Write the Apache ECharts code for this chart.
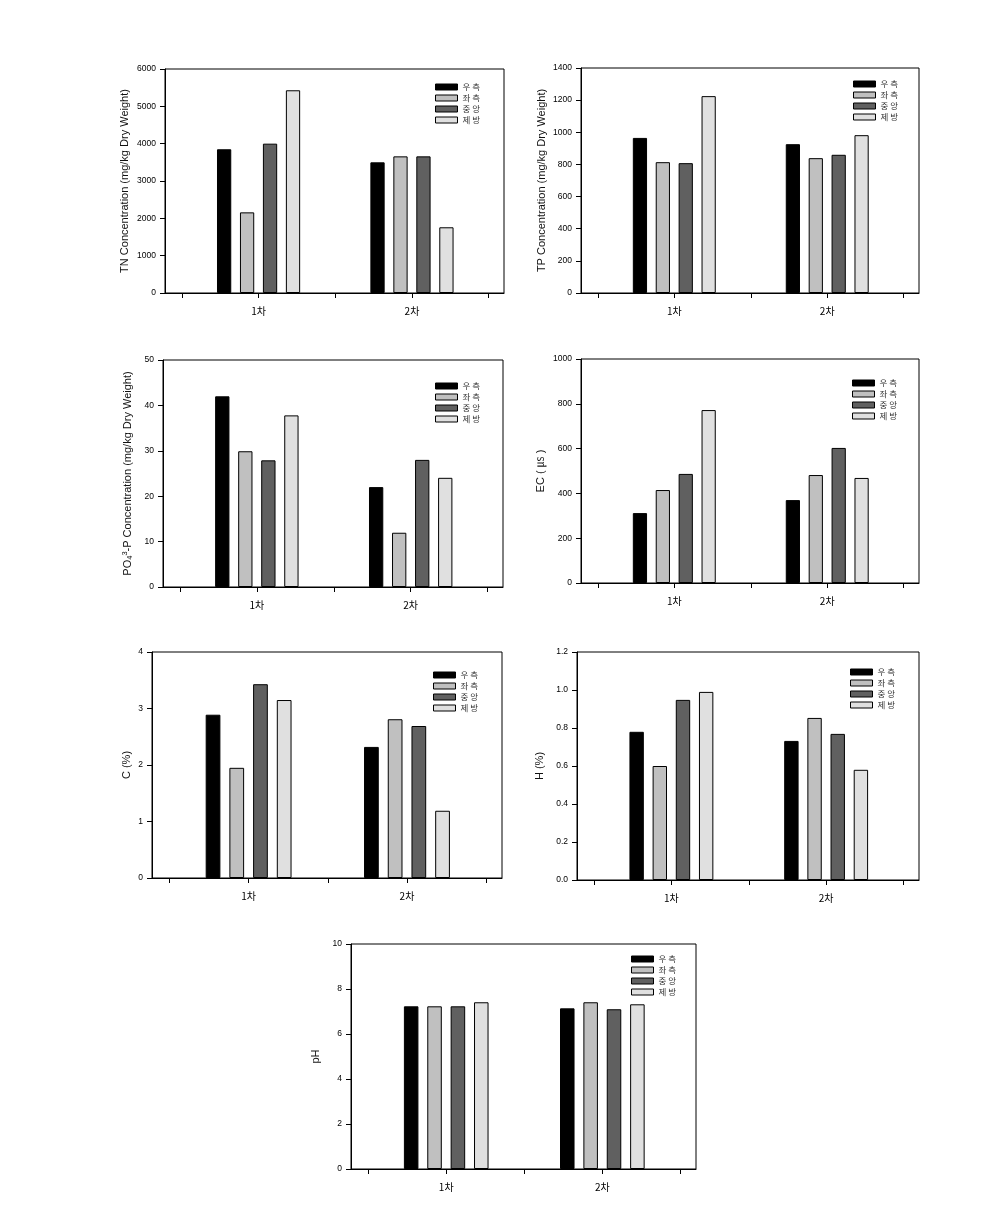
<!DOCTYPE html>
<html>
<head>
<meta charset="utf-8">
<script src="https://cdn.jsdelivr.net/npm/echarts@6/dist/echarts.min.js"></script>
<style>
  html, body { margin: 0; padding: 0; background: #ffffff; }
  #chart { width: 999px; height: 1206px; }
</style>
</head>
<body>
<div id="chart"></div>
<script>
// ---------------- data ----------------
const categories = ['1차', '2차'];
const siteNames = ['우 측', '좌 측', '중 앙', '제 방'];

// values per site: [1차, 2차]
const tnValues  = [[3850, 3500], [2160, 3660], [4000, 3660], [5430, 1760]];
const tpValues  = [[965, 926], [814, 839], [808, 860], [1225, 982]];
const po4Values = [[42.0, 22.0], [29.9, 11.95], [27.9, 28.0], [37.8, 24.05]];
const ecValues  = [[312, 370], [415, 482], [487, 603], [772, 469]];
const cValues   = [[2.89, 2.32], [1.95, 2.81], [3.43, 2.69], [3.15, 1.19]];
const hValues   = [[0.78, 0.732], [0.60, 0.853], [0.948, 0.769], [0.99, 0.58]];
const phValues  = [[7.23, 7.14], [7.23, 7.41], [7.23, 7.10], [7.41, 7.32]];

// y tick labels
const tnTicks  = [0, 1000, 2000, 3000, 4000, 5000, 6000];
const tpTicks  = [0, 200, 400, 600, 800, 1000, 1200, 1400];
const po4Ticks = [0, 10, 20, 30, 40, 50];
const ecTicks  = [0, 200, 400, 600, 800, 1000];
const cTicks   = [0, 1, 2, 3, 4];
const hTicks   = [0.0, 0.2, 0.4, 0.6, 0.8, 1.0, 1.2];
const phTicks  = [0, 2, 4, 6, 8, 10];

// ---------------- style / layout ----------------
const colors = ['#000000', '#c0c0c0', '#606060', '#e0e0e0'];
const FONT = '"Liberation Sans", Arial, "Noto Sans CJK KR", sans-serif';
const KFONT = '"Noto Sans CJK KR", "Liberation Sans", sans-serif';

const panels = [
  { values: tnValues, ticks: tnTicks, decimals: 0, name: 'TN Concentration (mg/kg Dry Weight)',
    grid: { left: 165, top: 69, width: 339, height: 224 }, legend: { left: 435, top: 82 }, nameGap: 34 },
  { values: tpValues, ticks: tpTicks, decimals: 0, name: 'TP Concentration (mg/kg Dry Weight)',
    grid: { left: 581, top: 68, width: 338, height: 225 }, legend: { left: 853, top: 79 }, nameGap: 33 },
  { values: po4Values, ticks: po4Ticks, decimals: 0, name: 'PO{sub|4}{sup|3}-P Concentration (mg/kg Dry Weight)',
    grid: { left: 163, top: 360, width: 340, height: 227 }, legend: { left: 435, top: 381 }, nameGap: 29 },
  { values: ecValues, ticks: ecTicks, decimals: 0, name: 'EC ( ㎲ )',
    grid: { left: 581, top: 359, width: 338, height: 224 }, legend: { left: 852, top: 378 }, nameGap: 34 },
  { values: cValues, ticks: cTicks, decimals: 0, name: 'C (%)',
    grid: { left: 152, top: 652, width: 350, height: 226 }, legend: { left: 433, top: 670 }, nameGap: 19 },
  { values: hValues, ticks: hTicks, decimals: 1, name: 'H (%)',
    grid: { left: 577, top: 652, width: 342, height: 228 }, legend: { left: 850, top: 667 }, nameGap: 31 },
  { values: phValues, ticks: phTicks, decimals: 0, name: 'pH',
    grid: { left: 351, top: 944, width: 345, height: 225 }, legend: { left: 631, top: 954 }, nameGap: 29 }
];

const option = {
  animation: false,
  backgroundColor: '#ffffff',
  grid: [], xAxis: [], yAxis: [], series: [], legend: []
};

panels.forEach((p, pi) => {
  option.grid.push(Object.assign({
    show: true, borderColor: '#000', borderWidth: 1, backgroundColor: 'transparent', containLabel: false
  }, p.grid));

  option.xAxis.push({
    type: 'value', gridIndex: pi, min: 0.39, max: 2.6,
    axisLine: { show: true, onZero: false, lineStyle: { color: '#000', width: 1 } },
    axisTick: { show: true, length: 5, inside: false, customValues: [0.5, 1, 1.5, 2, 2.5],
      lineStyle: { color: '#000', width: 1 } },
    axisLabel: { show: true, customValues: [1, 2], margin: 13, fontSize: 10, color: '#000', fontFamily: KFONT,
      formatter: v => categories[Math.round(v) - 1] },
    splitLine: { show: false }
  });

  const t = p.ticks;
  option.yAxis.push({
    type: 'value', gridIndex: pi, min: t[0], max: t[t.length - 1], interval: t[1] - t[0],
    axisLine: { show: true, onZero: false, lineStyle: { color: '#000', width: 1 } },
    axisTick: { show: true, length: 5, inside: false, lineStyle: { color: '#000', width: 1 } },
    axisLabel: { margin: 9, fontSize: 8.5, color: '#000', fontFamily: FONT,
      formatter: v => Number(v).toFixed(p.decimals) },
    splitLine: { show: false },
    name: p.name, nameLocation: 'middle', nameGap: p.nameGap,
    nameTextStyle: {
      fontSize: 11, color: '#111', fontFamily: FONT, lineHeight: 13,
      rich: {
        sub: { fontSize: 7.5, fontFamily: FONT, color: '#111', verticalAlign: 'bottom', lineHeight: 8 },
        sup: { fontSize: 7.5, fontFamily: FONT, color: '#111', verticalAlign: 'top', lineHeight: 8 }
      }
    }
  });

  option.legend.push({
    data: siteNames, orient: 'vertical', left: p.legend.left, top: p.legend.top,
    padding: 0, itemWidth: 22, itemHeight: 6, itemGap: 1, icon: 'rect', selectedMode: false,
    itemStyle: { borderColor: '#000', borderWidth: 1 },
    textStyle: { fontSize: 8.5, lineHeight: 10, color: '#333', fontFamily: KFONT }
  });

  siteNames.forEach((sn, si) => {
    option.series.push({
      type: 'bar', name: sn, xAxisIndex: pi, yAxisIndex: pi,
      data: categories.map((c, ci) => [ci + 1, p.values[si][ci]]),
      barWidth: '9.3%', barGap: '61%',
      itemStyle: { color: colors[si], borderColor: '#000', borderWidth: 1 },
      silent: true
    });
  });
});

const chart = echarts.init(document.getElementById('chart'), null, { renderer: 'canvas' });
chart.setOption(option);
</script>
</body>
</html>
